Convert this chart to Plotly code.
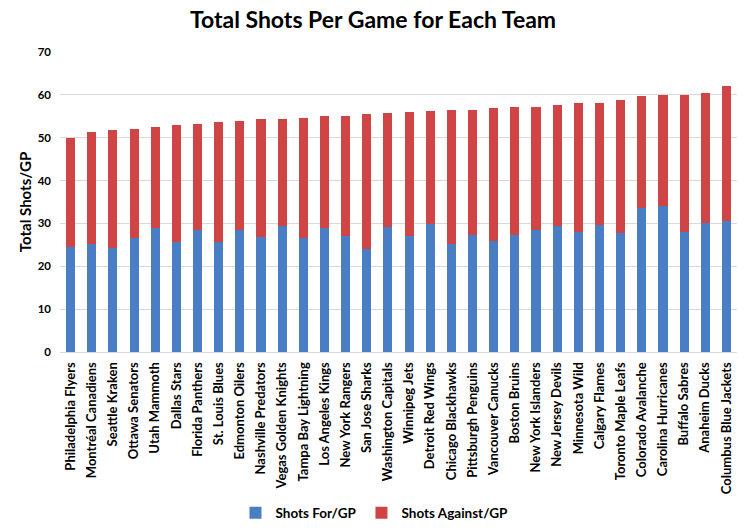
import plotly.graph_objects as go

teams = ["Philadelphia Flyers", "Montréal Canadiens", "Seattle Kraken", "Ottawa Senators",
         "Utah Mammoth", "Dallas Stars", "Florida Panthers", "St. Louis Blues",
         "Edmonton Oilers", "Nashville Predators", "Vegas Golden Knights",
         "Tampa Bay Lightning", "Los Angeles Kings", "New York Rangers", "San Jose Sharks",
         "Washington Capitals", "Winnipeg Jets", "Detroit Red Wings", "Chicago Blackhawks",
         "Pittsburgh Penguins", "Vancouver Canucks", "Boston Bruins", "New York Islanders",
         "New Jersey Devils", "Minnesota Wild", "Calgary Flames", "Toronto Maple Leafs",
         "Colorado Avalanche", "Carolina Hurricanes", "Buffalo Sabres", "Anaheim Ducks",
         "Columbus Blue Jackets"]

shots_for = [24.5, 25.3, 24.3, 26.6, 28.9, 25.7, 28.5, 25.7, 28.5, 26.8, 29.5,
             26.7, 29.0, 27.1, 24.0, 29.2, 27.1, 29.9, 25.3, 27.3, 25.9, 27.3,
             28.5, 29.5, 28.1, 29.6, 27.8, 33.7, 34.1, 28.1, 30.1, 30.6]

total_shots = [49.9, 51.3, 51.8, 52.0, 52.5, 53.0, 53.2, 53.7, 53.9, 54.4, 54.3,
               54.6, 55.1, 55.1, 55.5, 55.8, 56.0, 56.2, 56.5, 56.5, 56.9, 57.2,
               57.2, 57.6, 58.1, 58.1, 58.8, 59.7, 60.0, 59.9, 60.4, 62.1]

shots_against = [round(t - f, 2) for t, f in zip(total_shots, shots_for)]

y_ticks = [0, 10, 20, 30, 40, 50, 60, 70]

FONT = "Lato"

fig = go.Figure()
fig.add_trace(go.Bar(x=teams, y=shots_for, name="Shots For/GP",
                     marker=dict(color="#4a7ec4", line=dict(width=0))))
fig.add_trace(go.Bar(x=teams, y=shots_against, name="Shots Against/GP",
                     marker=dict(color="#cf4444", line=dict(width=0))))

fig.update_layout(
    barmode="stack",
    bargap=0.57,
    width=746, height=531,
    margin=dict(l=60, r=9, t=52, b=179, autoexpand=False),
    paper_bgcolor="white", plot_bgcolor="white",
    font=dict(family=FONT, color="black"),
    title=dict(text="<b>Total Shots Per Game for Each Team</b>", x=0.5, xanchor="center",
               xref="container", y=0.962, yanchor="middle",
               font=dict(size=23, family=FONT, color="black")),
    legend=dict(orientation="h", x=0.502, xanchor="center", xref="container",
                y=0.034, yref="container", yanchor="middle",
                font=dict(size=13.5, family=FONT, weight="bold"),
                traceorder="normal", bgcolor="rgba(0,0,0,0)"),
    showlegend=True,
)
fig.update_xaxes(tickangle=-90, tickfont=dict(size=13, family=FONT, weight="bold"),
                 showline=True, linecolor="#d9d9d9", linewidth=1, ticks="",
                 showgrid=False, automargin=False, ticklabelstandoff=4)
fig.update_yaxes(range=[0, 70], tickvals=y_ticks, showgrid=True, gridcolor="#d9d9d9",
                 gridwidth=1, zeroline=False, showline=False, automargin=False,
                 tickfont=dict(size=11.5, family=FONT, weight="bold"), ticks="", ticklen=0,
                 ticklabelstandoff=8,
                 title=dict(text="<b>Total Shots/GP</b>", font=dict(size=15, family=FONT),
                            standoff=2))

fig.write_html("out.html",
               config={"displayModeBar": False},
               post_script="document.body.style.margin='0';document.body.style.padding='0';")
